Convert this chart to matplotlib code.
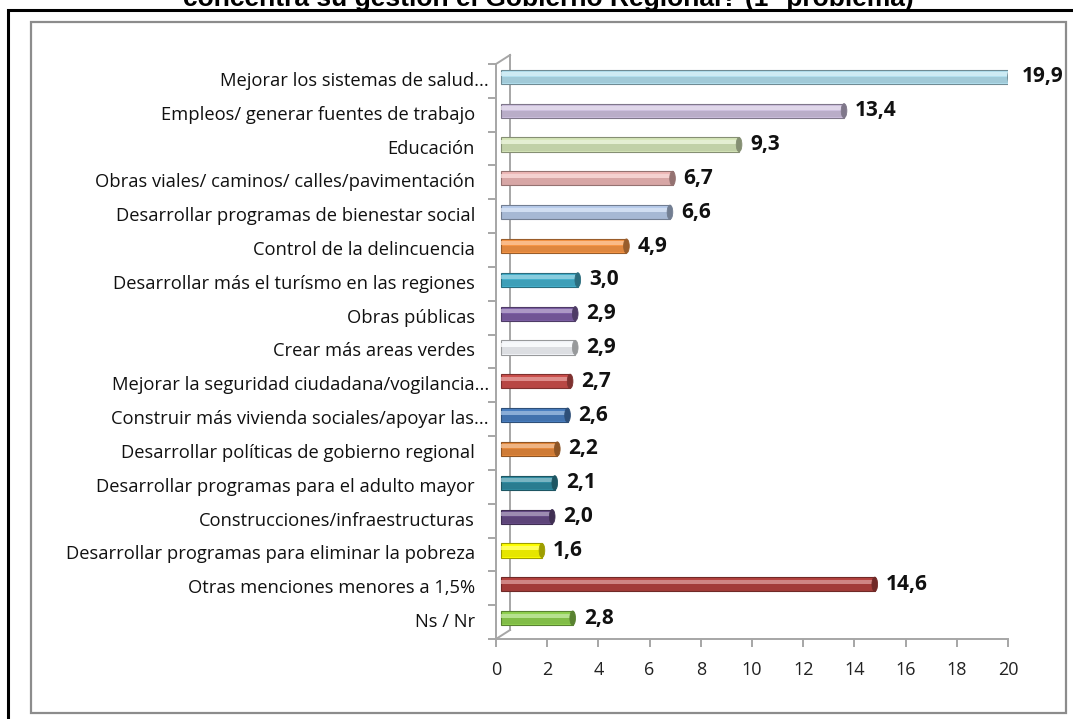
import matplotlib
matplotlib.use("Agg")
import matplotlib.pyplot as plt
import matplotlib.transforms as mtransforms
from matplotlib.patches import Rectangle, Ellipse
from matplotlib.colors import to_rgb

# data
labels = [
    "Mejorar los sistemas de salud...",
    "Empleos/ generar fuentes de trabajo",
    "Educación",
    "Obras viales/ caminos/ calles/pavimentación",
    "Desarrollar programas de bienestar social",
    "Control de la delincuencia",
    "Desarrollar más el turísmo en las regiones",
    "Obras públicas",
    "Crear más areas verdes",
    "Mejorar la seguridad ciudadana/vogilancia...",
    "Construir más vivienda sociales/apoyar las...",
    "Desarrollar políticas de gobierno regional",
    "Desarrollar programas para el adulto mayor",
    "Construcciones/infraestructuras",
    "Desarrollar programas para eliminar la pobreza",
    "Otras menciones menores a 1,5%",
    "Ns / Nr",
]
values = [19.9, 13.4, 9.3, 6.7, 6.6, 4.9, 3.0, 2.9, 2.9, 2.7, 2.6, 2.2, 2.1, 2.0, 1.6, 14.6, 2.8]
colors = ["#b3e0ef", "#cdc0de", "#d6e6b9", "#eeb8b7", "#b8cceb", "#f79646", "#45b0cc",
          "#7d5fa5", "#f4f6fa", "#cc4f4c", "#4a7fc1", "#e5893c", "#2f8aa0", "#674c86",
          "#ffff00", "#b4423f", "#8fd14f"]
xticks = [0, 2, 4, 6, 8, 10, 12, 14, 16, 18, 20]
title = "concentra su gestión el Gobierno Regional? (1° problema)"

W, H = 1073, 719
fig = plt.figure(figsize=(W / 100, H / 100), dpi=100)
fig.patch.set_facecolor("white")

# frames
fig.patches.append(Rectangle((8 / W, -0.01), 1.02, 1 - 10 / H + 0.01, transform=fig.transFigure,
                             fill=False, edgecolor="black", linewidth=2.2))
fig.patches.append(Rectangle((31 / W, 1 - 713 / H), (1066 - 31) / W, (713 - 22) / H,
                             transform=fig.transFigure, fill=False, edgecolor="#8c8c8c", linewidth=1.6))
fig.text(548 / W, 1 - 6 / H, title, ha="center", va="baseline", fontsize=19,
         fontweight="bold", family="Liberation Sans")

ax = fig.add_axes([496 / W, 1 - 639 / H, (1008 - 496) / W, (639 - 64) / H])
ax.set_xlim(0, 20)
n = len(values)
ax.set_ylim(n - 0.5, -0.5)
for s in ["top", "right"]:
    ax.spines[s].set_visible(False)
for s in ["left", "bottom"]:
    ax.spines[s].set_color("#a6a6a6")
    ax.spines[s].set_linewidth(1.4)

ax.set_xticks(xticks)
ax.set_xticklabels([str(t) for t in xticks], family="Open Sans", fontsize=13, color="#222222")
ax.tick_params(axis="x", length=6, width=1.4, color="#a6a6a6", pad=10)
ax.set_yticks([i - 0.5 for i in range(n + 1)])
ax.set_yticklabels([])
ax.tick_params(axis="y", length=6, width=1.4, color="#a6a6a6")

# back wall (3d depth)
depth = mtransforms.ScaledTranslation(14 / 100, 9 / 100, fig.dpi_scale_trans)
back = ax.transData + depth
ax.plot([0, 0], [-0.5, n - 0.5], color="#a6a6a6", lw=1.4, transform=back, clip_on=False)
ax.plot([0, 0.55], [-0.5, -0.5 - 9 / 33.8], color="#a6a6a6", lw=1.4, clip_on=False)
ax.plot([0, 0.55], [n - 0.5, n - 0.5 - 9 / 33.8], color="#a6a6a6", lw=1.4, clip_on=False)

# bars as cylinders
mid = ax.transData + mtransforms.ScaledTranslation(5 / 100, 4 / 100, fig.dpi_scale_trans)
bh = 0.42
for i, (v, c) in enumerate(zip(values, colors)):
    r, g, b = to_rgb(c)
    dark = (r * 0.62, g * 0.62, b * 0.62)
    light = tuple(min(1, x + (1 - x) * 0.45) for x in (r, g, b))
    ax.barh(i, v, height=bh, color=c, edgecolor=dark, linewidth=0.8, transform=mid, zorder=3)
    ax.barh(i + bh * 0.22, v, height=bh * 0.45, left=0, color=dark, alpha=0.25,
            linewidth=0, transform=mid, zorder=4)
    ax.barh(i - bh * 0.18, v, height=bh * 0.28, color=light, alpha=0.8,
            linewidth=0, transform=mid, zorder=4)
    ax.add_patch(Ellipse((v, i), 0.22, bh, facecolor=dark, edgecolor=dark,
                         linewidth=0.6, transform=mid, zorder=5))
    ax.text(v, i, f"{v:.1f}".replace(".", ","), transform=mid + mtransforms.ScaledTranslation(
        11 / 100, 0, fig.dpi_scale_trans), ha="left", va="center", fontsize=15,
        fontweight="bold", family="Open Sans", color="#111111", zorder=6)

# category labels
lab_tr = mtransforms.blended_transform_factory(ax.transAxes, ax.transData)
for i, lab in enumerate(labels):
    off = 7 if lab.endswith("...") else 21
    ax.text(0, i, lab, ha="right", va="center", fontsize=13.2, family="Open Sans",
            color="#111111",
            transform=lab_tr + mtransforms.ScaledTranslation(-off / 100, 0, fig.dpi_scale_trans))

fig.savefig("out.png", dpi=100)
